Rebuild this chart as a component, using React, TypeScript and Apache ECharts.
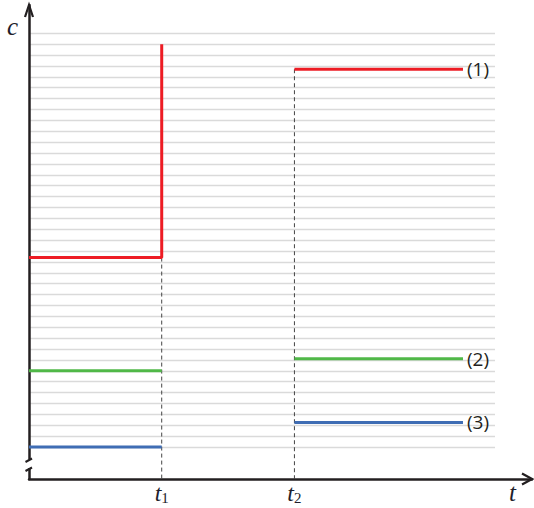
import React, { useEffect, useRef } from "react";
import * as echarts from "echarts";

// ---- data (x in units of t1 = 1, t2 = 2; y in gridline units) ----
const T1 = 1;
const T2 = 2;
const T_END = 3.27;
const X_GRID_END = 3.51;
const X_MAX = 3.79;
const Y_MIN = -2.94;
const Y_MAX = 40.6;
const Y_GRID_MAX = 38;

const seriesLabels = ["(1)", "(2)", "(3)"];
const seriesColors = ["#ed1c24", "#50b848", "#3f6db4"];
const valuesBefore = [17.4, 7.0, 0];
const valuesAfter = [34.7, 8.1, 2.25];
const redPeak = 37;
const tickLabels: Record<number, string> = { 1: "{t|t}{s|1}", 2: "{t|t}{s|2}" };

const AXIS = "#231f20";
const TEXT = "#1e1e2c";

export default function App() {
  const ref = useRef<HTMLDivElement>(null);
  useEffect(() => {
    if (!ref.current) return;
    const chart = echarts.init(ref.current, undefined, { renderer: "svg" });

    const series: any[] = [];
    seriesColors.forEach((color, i) => {
      const before: number[][] = [
        [0, valuesBefore[i]],
        [T1, valuesBefore[i]],
      ];
      if (i === 0) before.push([T1, redPeak]);
      series.push({
        type: "line",
        xAxisIndex: 1,
        yAxisIndex: 1,
        data: before,
        symbol: "none",
        lineStyle: { color, width: 3 },
        z: 5,
      });
      series.push({
        type: "line",
        xAxisIndex: 1,
        yAxisIndex: 1,
        data: [
          [T2, valuesAfter[i]],
          [T_END, valuesAfter[i]],
        ],
        symbol: "none",
        lineStyle: { color, width: 3 },
        endLabel: {
          show: true,
          distance: 4,
          formatter: seriesLabels[i],
          fontFamily: "Open Sans",
          fontSize: 19,
          color: AXIS,
        },
        z: 5,
      });
    });
    // dashed drop lines
    [
      [T1, valuesBefore[0]],
      [T2, valuesAfter[0]],
    ].forEach(([x, y]) => {
      series.push({
        type: "line",
        xAxisIndex: 1,
        yAxisIndex: 1,
        data: [
          [x, y],
          [x, Y_MIN],
        ],
        symbol: "none",
        lineStyle: { color: "#444", width: 1, type: [4, 3] },
        z: 3,
      });
    });

    chart.setOption({
      animation: false,
      grid: [
        { left: 29, top: 33.3, width: 466, height: 413.7 },
        { left: 29, right: 2, top: 5, bottom: 29 },
      ],
      xAxis: [
        { gridIndex: 0, type: "value", min: 0, max: X_GRID_END, show: false },
        {
          gridIndex: 1,
          type: "value",
          min: 0,
          max: X_MAX,
          interval: 1,
          axisLine: { show: true, onZero: false, lineStyle: { color: AXIS, width: 2.5 } },
          axisTick: { show: false },
          splitLine: { show: false },
          axisLabel: {
            margin: 4,
            showMinLabel: false,
            showMaxLabel: false,
            formatter: (v: number) => tickLabels[v] || "",
            rich: {
              t: {
                fontFamily: "Liberation Serif",
                fontStyle: "italic",
                fontSize: 24,
                color: TEXT,
                lineHeight: 22,
                verticalAlign: "bottom",
              },
              s: {
                fontFamily: "Liberation Serif",
                fontSize: 15,
                color: TEXT,
                lineHeight: 22,
                verticalAlign: "bottom",
                padding: [10, 0, 0, 0],
              },
            },
          },
        },
      ],
      yAxis: [
        {
          gridIndex: 0,
          type: "value",
          min: 0,
          max: Y_GRID_MAX,
          interval: 1,
          axisLine: { show: false },
          axisTick: { show: false },
          axisLabel: { show: false },
          splitLine: { show: true, lineStyle: { color: "#dadada", width: 1.3 } },
        },
        {
          gridIndex: 1,
          type: "value",
          min: Y_MIN,
          max: Y_MAX,
          axisLine: { show: true, onZero: false, lineStyle: { color: AXIS, width: 2.5 } },
          axisTick: { show: false },
          axisLabel: { show: false },
          splitLine: { show: false },
        },
      ],
      series,
      graphic: [
        // arrow heads
        {
          type: "polyline",
          shape: { points: [[25, 17], [29, 5], [33, 17]] },
          style: { stroke: AXIS, lineWidth: 2.2, fill: "none" },
          z: 10,
        },
        {
          type: "polyline",
          shape: { points: [[522, 473.5], [532, 479], [522, 484.5]] },
          style: { stroke: AXIS, lineWidth: 2.2, fill: "none" },
          z: 10,
        },
        // axis break
        {
          type: "rect",
          shape: { x: 25, y: 459.5, width: 9, height: 8.5 },
          style: { fill: "#fff" },
          z: 10,
        },
        {
          type: "line",
          shape: { x1: 25.5, y1: 462, x2: 32, y2: 458.5 },
          style: { stroke: AXIS, lineWidth: 2 },
          z: 11,
        },
        {
          type: "line",
          shape: { x1: 25.5, y1: 471, x2: 32, y2: 467.5 },
          style: { stroke: AXIS, lineWidth: 2 },
          z: 11,
        },
        // axis names
        {
          type: "text",
          style: {
            x: 7,
            y: 26.5,
            text: "c",
            font: "italic 25px 'Liberation Serif'",
            fill: TEXT,
            textVerticalAlign: "middle",
          },
          z: 10,
        },
        {
          type: "text",
          style: {
            x: 509,
            y: 492,
            text: "t",
            font: "italic 25px 'Liberation Serif'",
            fill: TEXT,
            textVerticalAlign: "middle",
          },
          z: 10,
        },
      ],
    });
    return () => chart.dispose();
  }, []);
  return <div ref={ref} style={{ width: 534, height: 508, position: "absolute", left: 0, top: 0 }} />;
}
